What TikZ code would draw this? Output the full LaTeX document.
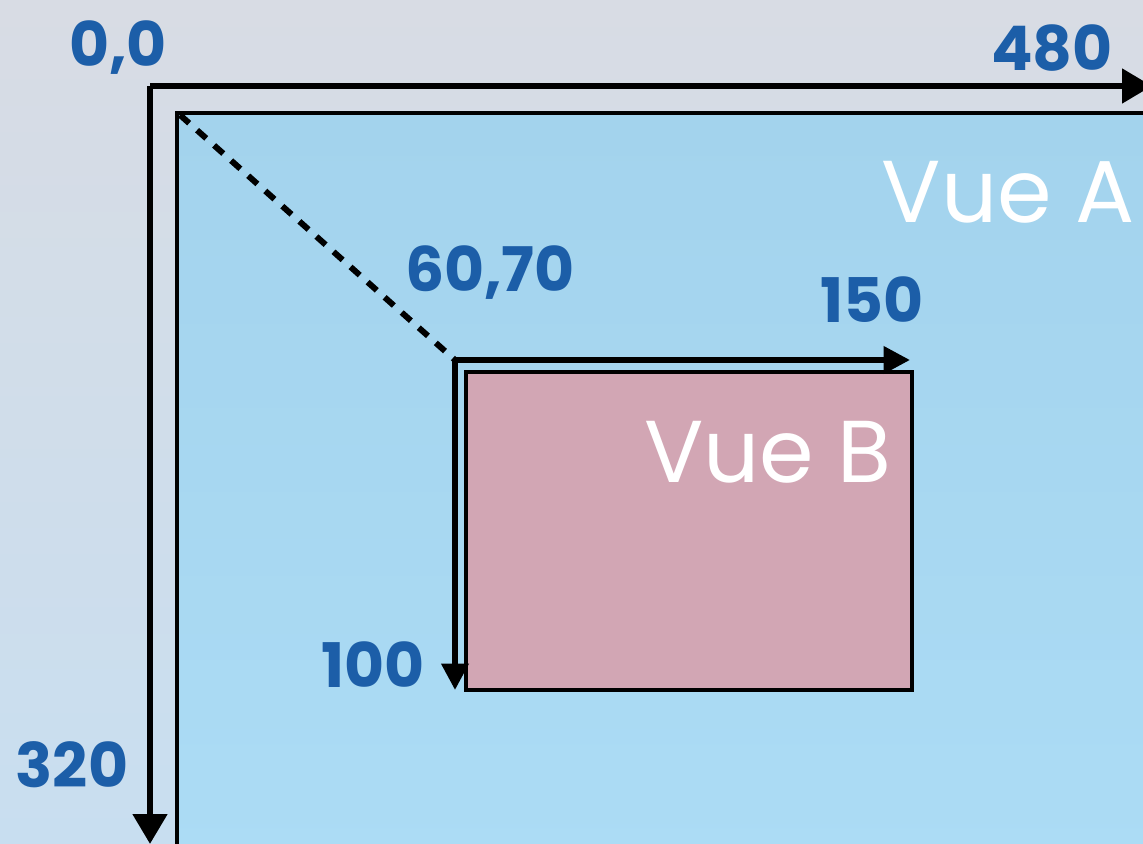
\documentclass[tikz,border=0pt]{standalone}
\usepackage{fontspec}
\setsansfont{Poppins}
\usetikzlibrary{arrows.meta}
\definecolor{bggray}{RGB}{216,220,228}
\definecolor{bgblue}{RGB}{200,222,240}
\definecolor{vueablue}{RGB}{163,211,237}
\definecolor{vueablue2}{RGB}{172,220,245}
\definecolor{vuebpink}{RGB}{210,166,180}
\definecolor{coordblue}{RGB}{28,94,168}
\begin{document}
\begin{tikzpicture}[x=0.02cm, y=-0.02cm,
    axis/.style ={line width=3.6pt, -{Triangle[length=17pt, width=19pt]}},
    subaxis/.style ={line width=3.3pt, -{Triangle[length=15pt, width=15pt]}},
    frame/.style ={draw=black, line width=2.6pt},
    coordlabel/.style ={text=coordblue, font=\sffamily\bfseries\fontsize{35}{35}\selectfont, inner sep=0pt},
    viewlabel/.style ={text=white, font=\sffamily\fontsize{50}{50}\selectfont, inner sep=0pt}]
   \useasboundingbox (0,0) rectangle (1143,844);
   \clip (0,0) rectangle (1143,844);
   \shade[top color=bggray, bottom color=bgblue] (0,0) rectangle (1143,844);

   % Vue A
   \shade[top color=vueablue, bottom color=vueablue2] (177,113) rectangle (1170,870);
   \draw[frame] (177,113) rectangle (1170,870);
   \node[viewlabel] (vuea) at (1008,192) {Vue A};

   % Vue B
   \fill[vuebpink] (466,372) rectangle (912,690);
   \draw[frame] (466,372) rectangle (912,690);
   \node[viewlabel] (vueb) at (768,452) {Vue B};

   \coordinate (O)  at (150,86);
   \coordinate (OX) at (1152,86);
   \coordinate (OY) at (150,844);
   \coordinate (A)  at (180,115);
   \coordinate (B)  at (455,360);
   \coordinate (BX) at (910,360);
   \coordinate (BY) at (455,690);

   \draw[axis] (O) to (OX);
   \draw[axis] (O) to (OY);
   \draw[line width=3.4pt, dash pattern=on 7pt off 6pt] (A) to (B);
   \draw[subaxis] (B) to (BX);
   \draw[subaxis] (B) to (BY);

   \node[coordlabel] (origin) at (118,48)  {0,0};
   \node[coordlabel] (width)  at (1052,48) {480};
   \node[coordlabel] (height) at (72,765)  {320};
   \node[coordlabel] (corner) at (490,273) {60,70};
   \node[coordlabel] (wb)     at (872,300) {150};
   \node[coordlabel] (hb)     at (373,665) {100};
 \end{tikzpicture}
\end{document}
